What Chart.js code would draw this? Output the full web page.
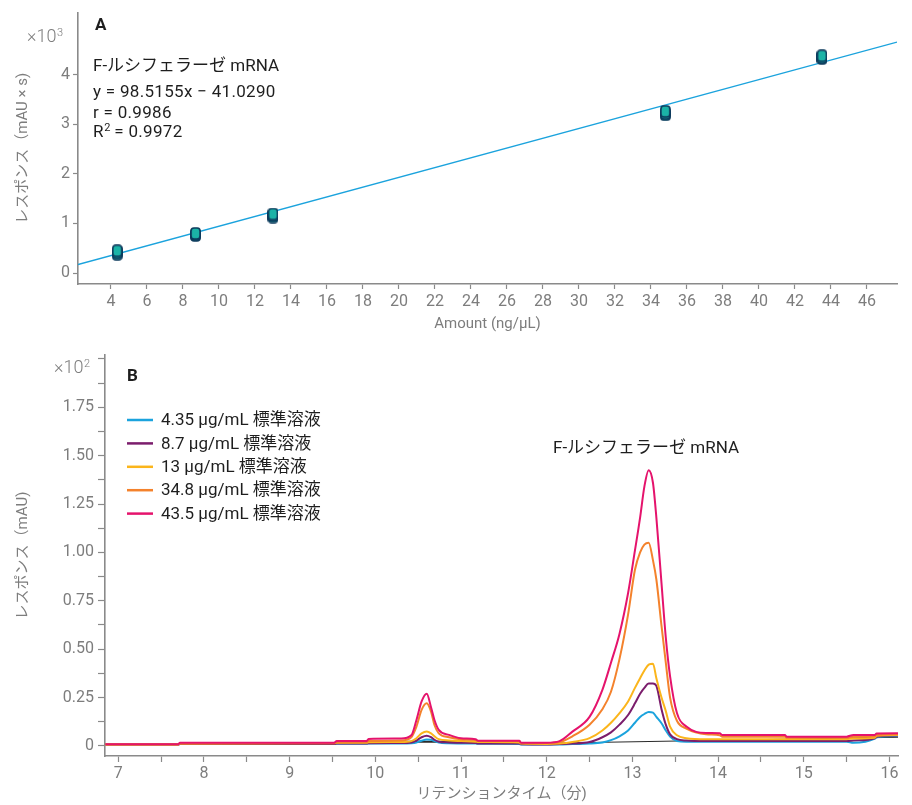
<!DOCTYPE html>
<html>
<head>
<meta charset="utf-8">
<script src="https://cdn.jsdelivr.net/npm/chart.js@4.4.1/dist/chart.umd.min.js"></script>
<style>
  body { margin: 0; background: #fff; }
  .panel { position: absolute; left: 0; width: 912px; }
  #wrapA { top: 0; height: 340px; }
  #wrapB { top: 340px; height: 465px; }
</style>
</head>
<body>
<div class="panel" id="wrapA"><canvas id="chartA" width="912" height="340"></canvas></div>
<div class="panel" id="wrapB"><canvas id="chartB" width="912" height="465"></canvas></div>
<script>
// ---- panel A: calibration (response x10^3 vs amount) ----
const amounts = [4.35, 4.35, 4.35, 8.7, 8.7, 8.7, 13, 13, 13, 34.8, 34.8, 34.8, 43.5, 43.5, 43.5];
const responses = [0.38, 0.42, 0.45, 0.76, 0.78, 0.80, 1.13, 1.16, 1.19, 3.19, 3.22, 3.26, 4.33, 4.35, 4.38];
const fitSlope = 98.5155;
const fitIntercept = -41.0290;
const fitR = 0.9986;
const fitR2 = 0.9972;
const fitRange = [2.17, 47.67];
const amountTicks = [4, 6, 8, 10, 12, 14, 16, 18, 20, 22, 24, 26, 28, 30, 32, 34, 36, 38, 40, 42, 44, 46];
const responseTicks = [0, 1, 2, 3, 4];

// ---- panel B: chromatograms (response x10^2 vs retention time) ----
const retentionTimes = [6.85, 7.70, 7.72, 9.52, 9.55, 9.90, 9.92, 10.30, 10.42, 10.48,
  10.54, 10.60, 10.65, 10.69, 10.74, 10.86, 11.00, 11.17, 11.20, 11.68,
  11.70, 12.00, 12.15, 12.30, 12.50, 12.65, 12.75, 12.85, 12.95, 13.03,
  13.09, 13.14, 13.19, 13.24, 13.28, 13.34, 13.39, 13.44, 13.52, 13.63,
  13.86, 14.02, 14.05, 14.78, 14.80, 15.50, 15.58, 15.83, 15.85, 16.10];
const trace4_35 = [0.008, 0.008, 0.010, 0.010, 0.011, 0.011, 0.012, 0.012, 0.014, 0.018,
  0.027, 0.033, 0.032, 0.025, 0.018, 0.014, 0.013, 0.012, 0.011, 0.010,
  0.008, 0.008, 0.008, 0.010, 0.012, 0.018, 0.030, 0.050, 0.080, 0.120,
  0.150, 0.165, 0.175, 0.172, 0.150, 0.117, 0.080, 0.048, 0.025, 0.022,
  0.022, 0.022, 0.022, 0.022, 0.022, 0.022, 0.017, 0.038, 0.045, 0.052];
const trace8_7 = [0.008, 0.008, 0.010, 0.010, 0.012, 0.012, 0.014, 0.015, 0.018, 0.028,
  0.045, 0.053, 0.045, 0.032, 0.022, 0.018, 0.016, 0.015, 0.013, 0.012,
  0.009, 0.008, 0.010, 0.012, 0.020, 0.045, 0.070, 0.110, 0.160, 0.220,
  0.270, 0.300, 0.323, 0.323, 0.310, 0.190, 0.110, 0.060, 0.035, 0.028,
  0.025, 0.025, 0.025, 0.025, 0.025, 0.025, 0.028, 0.040, 0.048, 0.054];
const trace13 = [0.008, 0.008, 0.012, 0.014, 0.016, 0.016, 0.019, 0.020, 0.025, 0.040,
  0.065, 0.074, 0.065, 0.050, 0.035, 0.028, 0.025, 0.022, 0.020, 0.018,
  0.012, 0.010, 0.012, 0.020, 0.040, 0.080, 0.120, 0.170, 0.230, 0.300,
  0.350, 0.390, 0.420, 0.425, 0.350, 0.250, 0.180, 0.100, 0.055, 0.040,
  0.035, 0.035, 0.035, 0.035, 0.035, 0.035, 0.038, 0.042, 0.052, 0.056];
const trace34_8 = [0.008, 0.008, 0.012, 0.015, 0.019, 0.020, 0.025, 0.028, 0.045, 0.100,
  0.186, 0.220, 0.177, 0.108, 0.065, 0.045, 0.035, 0.030, 0.025, 0.025,
  0.016, 0.015, 0.020, 0.050, 0.110, 0.190, 0.280, 0.450, 0.680, 0.910,
  1.000, 1.040, 1.050, 0.960, 0.860, 0.620, 0.430, 0.250, 0.130, 0.090,
  0.060, 0.055, 0.047, 0.047, 0.042, 0.042, 0.047, 0.050, 0.056, 0.060];
const trace43_5 = [0.009, 0.009, 0.017, 0.017, 0.026, 0.026, 0.036, 0.038, 0.055, 0.134,
  0.230, 0.270, 0.200, 0.134, 0.083, 0.057, 0.040, 0.035, 0.027, 0.027,
  0.017, 0.017, 0.025, 0.074, 0.150, 0.290, 0.430, 0.580, 0.790, 1.010,
  1.180, 1.340, 1.425, 1.360, 1.180, 0.840, 0.560, 0.360, 0.170, 0.100,
  0.067, 0.065, 0.057, 0.057, 0.048, 0.048, 0.057, 0.057, 0.064, 0.065];
const traceLabels = ['4.35 μg/mL 標準溶液', '8.7 μg/mL 標準溶液', '13 μg/mL 標準溶液',
  '34.8 μg/mL 標準溶液', '43.5 μg/mL 標準溶液'];
// integration baselines drawn under the traces
const baseTimes1 = [10.30, 11.20];
const baseValues1 = [0.022, 0.022];
const baseTimes2 = [12.00, 16.10];
const baseValues2 = [0.014, 0.045];
const timeTicks = [7, 7.5, 8, 8.5, 9, 9.5, 10, 10.5, 11, 11.5, 12, 12.5, 13, 13.5, 14, 14.5, 15, 15.5, 16];
const signalTicks = [0, 0.125, 0.25, 0.375, 0.5, 0.625, 0.75, 0.875, 1, 1.125, 1.25, 1.375, 1.5, 1.625, 1.75, 1.875, 2];

const FONT = "Roboto, 'Noto Sans CJK JP', sans-serif";
const AXIS_GREY = '#8a8a8a';
const TEXT_GREY = '#7d7d7d';
const INK = '#1e1e1e';
const traceColors = ['#1ba3dd', '#7b1d6c', '#fbb51b', '#f4822c', '#e5136c'];

function pairs(xs, ys) {
  return xs.map((x, i) => ({ x: x, y: ys[i] }));
}

function makeMarker() {
  const c = document.createElement('canvas');
  c.width = 11; c.height = 13;
  const g = c.getContext('2d');
  g.beginPath();
  g.roundRect(1, 1, 9, 11, 3);
  g.fillStyle = '#1bb3a7';
  g.fill();
  g.lineWidth = 1.6;
  g.strokeStyle = '#0c3a5c';
  g.stroke();
  return c;
}

function axisStyle(tickLen) {
  return {
    grid: { display: true, drawOnChartArea: false, drawTicks: true, tickLength: tickLen, color: AXIS_GREY, tickWidth: 1.2 },
    border: { display: true, color: AXIS_GREY, width: 1.6 }
  };
}

// "×10" with a small exponent, as in the axis corner labels
function drawMultiplier(ctx, x, y, exp) {
  ctx.fillStyle = TEXT_GREY;
  ctx.font = '300 18px ' + FONT;
  ctx.fillText('×10', x, y);
  const w = ctx.measureText('×10').width;
  ctx.font = '300 11px ' + FONT;
  ctx.fillText(exp, x + w + 0.5, y - 6);
}

Chart.defaults.font.family = FONT;
Chart.defaults.color = TEXT_GREY;

// ---------- chart A ----------
const panelAText = {
  id: 'panelAText',
  afterDraw(chart) {
    const ctx = chart.ctx;
    ctx.save();
    ctx.textAlign = 'left';
    ctx.textBaseline = 'alphabetic';
    ctx.fillStyle = INK;
    ctx.font = 'bold 17px ' + FONT;
    ctx.fillText('A', 95, 30);
    ctx.font = '17px ' + FONT;
    ctx.fillText('F-ルシフェラーゼ mRNA', 93, 71);
    ctx.letterSpacing = '0.3px';
    ctx.fillText('y = ' + fitSlope.toFixed(4) + 'x − ' + Math.abs(fitIntercept).toFixed(4), 93, 97);
    ctx.fillText('r = ' + fitR.toFixed(4), 93, 118);
    ctx.fillText('R', 93, 137);
    const rw = ctx.measureText('R').width;
    ctx.fillText(' = ' + fitR2.toFixed(4), 93 + rw + 6, 137);
    ctx.font = '11px ' + FONT;
    ctx.fillText('2', 93 + rw + 0.5, 131);
    ctx.letterSpacing = '0px';
    drawMultiplier(ctx, 27, 42, '3');
    ctx.restore();
  }
};

const marker = makeMarker();

new Chart(document.getElementById('chartA'), {
  type: 'scatter',
  data: {
    datasets: [
      {
        label: 'fit',
        data: pairs(fitRange, fitRange.map(x => (fitSlope * x + fitIntercept) / 1000)),
        showLine: true,
        borderColor: '#1ba3dd',
        borderWidth: 1.4,
        pointRadius: 0,
        order: 2
      },
      {
        label: 'F-ルシフェラーゼ mRNA',
        data: pairs(amounts, responses),
        pointStyle: marker,
        pointRadius: 6,
        order: 1
      }
    ]
  },
  options: {
    responsive: false,
    devicePixelRatio: 1,
    animation: false,
    layout: { padding: { left: 10, top: 9, right: 15, bottom: 3 } },
    plugins: { legend: { display: false }, tooltip: { enabled: false } },
    scales: {
      x: Object.assign({
        type: 'linear',
        min: fitRange[0],
        max: fitRange[1],
        afterBuildTicks: s => { s.ticks = amountTicks.map(v => ({ value: v })); },
        afterFit: s => { s.height = 53; },
        ticks: { autoSkip: false, maxRotation: 0, padding: 3, font: { size: 16 }, color: TEXT_GREY },
        title: { display: true, text: 'Amount (ng/μL)', font: { size: 15 }, color: TEXT_GREY }
      }, axisStyle(5)),
      y: Object.assign({
        type: 'linear',
        min: -0.22,
        max: 5.25,
        afterBuildTicks: s => { s.ticks = responseTicks.map(v => ({ value: v })); },
        afterFit: s => { s.width = 68; },
        ticks: { autoSkip: false, padding: 3, font: { size: 16 }, color: TEXT_GREY },
        title: { display: true, text: 'レスポンス（mAU × s)', font: { size: 15 }, color: TEXT_GREY }
      }, axisStyle(5))
    }
  },
  plugins: [panelAText]
});

// ---------- chart B ----------
const panelBText = {
  id: 'panelBText',
  afterDraw(chart) {
    const ctx = chart.ctx;
    ctx.save();
    ctx.textAlign = 'left';
    ctx.textBaseline = 'alphabetic';
    drawMultiplier(ctx, 54, 33, '2');
    ctx.fillStyle = INK;
    ctx.font = 'bold 17px ' + FONT;
    ctx.fillText('B', 127, 41);
    ctx.font = '17px ' + FONT;
    ctx.fillText('F-ルシフェラーゼ mRNA', 553, 113);
    // legend
    ctx.textBaseline = 'middle';
    traceLabels.forEach((lbl, i) => {
      const y = 80 + i * 23.4;
      ctx.strokeStyle = traceColors[i];
      ctx.lineWidth = 2.5;
      ctx.beginPath();
      ctx.moveTo(127, y);
      ctx.lineTo(153, y);
      ctx.stroke();
      ctx.fillStyle = INK;
      ctx.fillText(lbl, 161, y + 1);
    });
    ctx.restore();
  }
};

const traces = [trace4_35, trace8_7, trace13, trace34_8, trace43_5];
const traceSets = traces.map((vals, i) => ({
  label: traceLabels[i],
  data: pairs(retentionTimes, vals),
  borderColor: traceColors[i],
  borderWidth: 2,
  pointRadius: 0,
  cubicInterpolationMode: 'monotone',
  order: 4 - i
}));
traceSets.push({
  label: 'baseline1',
  data: pairs(baseTimes1, baseValues1),
  borderColor: '#2a2a2a',
  borderWidth: 2,
  pointRadius: 0,
  order: 6
});
traceSets.push({
  label: 'baseline2',
  data: pairs(baseTimes2, baseValues2),
  borderColor: '#2a2a2a',
  borderWidth: 1.2,
  pointRadius: 0,
  order: 6
});

new Chart(document.getElementById('chartB'), {
  type: 'line',
  data: { datasets: traceSets },
  options: {
    responsive: false,
    devicePixelRatio: 1,
    animation: false,
    layout: { padding: { left: 10, top: 15, right: 14, bottom: 2 } },
    plugins: { legend: { display: false }, tooltip: { enabled: false } },
    scales: {
      x: Object.assign({
        type: 'linear',
        min: 6.845,
        max: 16.1,
        afterBuildTicks: s => { s.ticks = timeTicks.map(v => ({ value: v })); },
        afterFit: s => { s.height = 47; },
        ticks: {
          autoSkip: false, maxRotation: 0, padding: 2, font: { size: 16 }, color: TEXT_GREY,
          callback: v => (Number.isInteger(v) ? String(v) : '')
        },
        title: { display: true, text: 'リテンションタイム（分)', font: { size: 15 }, color: TEXT_GREY, padding: { top: 0, bottom: 0 } }
      }, axisStyle(6)),
      y: Object.assign({
        type: 'linear',
        min: -0.052,
        max: 2.02,
        afterBuildTicks: s => { s.ticks = signalTicks.map(v => ({ value: v })); },
        afterFit: s => { s.width = 95; },
        ticks: {
          autoSkip: false, padding: 4, font: { size: 16 }, color: TEXT_GREY,
          callback: v => {
            if (v === 0) return '0';
            if (v >= 2 || Math.abs(v * 4 - Math.round(v * 4)) > 1e-6) return '';
            return v.toFixed(2);
          }
        },
        title: { display: true, text: 'レスポンス（mAU)', font: { size: 15 }, color: TEXT_GREY }
      }, axisStyle(7))
    }
  },
  plugins: [panelBText]
});
</script>
</body>
</html>
